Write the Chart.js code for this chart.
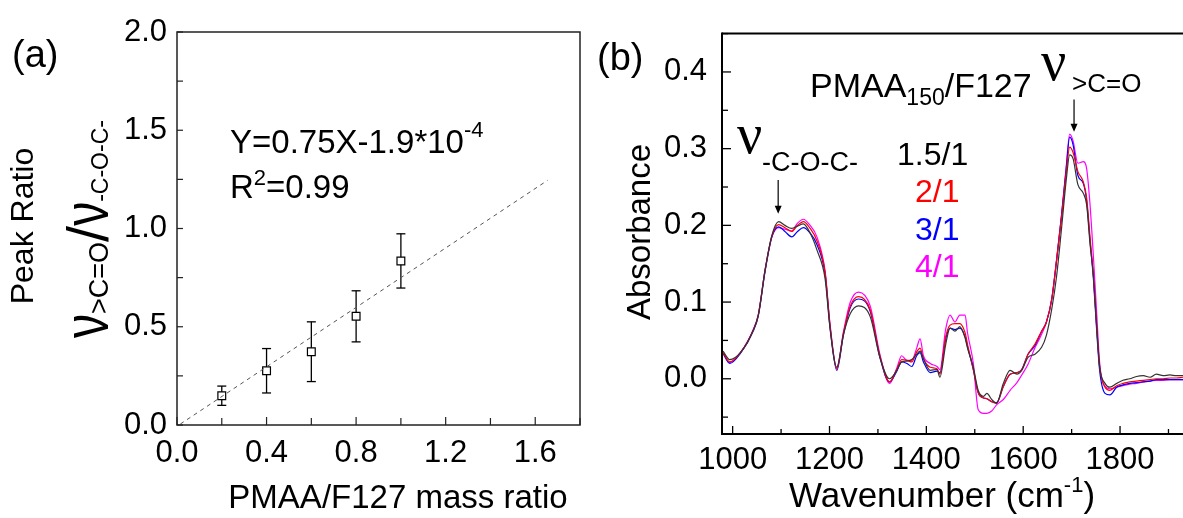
<!DOCTYPE html>
<html>
<head>
<meta charset="utf-8">
<script src="https://cdn.jsdelivr.net/npm/chart.js@4.4.1/dist/chart.umd.min.js"></script>
<style>
  html, body { margin: 0; padding: 0; background: #fff; }
  #wrap { position: relative; width: 1183px; height: 518px; overflow: hidden; }
  canvas { position: absolute; top: 0; }
  #ratioChart { left: 0; }
  #ftirChart { left: 590px; }
</style>
</head>
<body>
<div id="wrap">
  <canvas id="ratioChart" width="590" height="518"></canvas>
  <canvas id="ftirChart" width="593" height="518"></canvas>
</div>
<script>
const FONT = "'Liberation Sans', Arial, sans-serif";
const SERIF = "'Liberation Serif', 'Times New Roman', serif";

// --- (a) peak ratio vs mass ratio ---
const massRatio = [0.2, 0.4, 0.6, 0.8, 1.0];
const peakRatio = [0.149, 0.276, 0.373, 0.553, 0.835];
const peakErr = [0.049, 0.113, 0.152, 0.130, 0.138];
const fitX = [0.015, 1.655];
const fitY = [0.005, 1.245];
const ratioXLabels = [0, 0.4, 0.8, 1.2, 1.6];
const ratioYLabels = [0, 0.5, 1.0, 1.5, 2.0];

// --- (b) FTIR spectra ---
const wavenumber = [
  980, 994, 1016, 1043, 1053, 1067, 1081, 1095, 1108, 1122,
  1134, 1146, 1160, 1174, 1191, 1201, 1215, 1229, 1243, 1260,
  1284, 1304, 1324, 1339, 1349, 1360, 1370, 1380, 1387, 1394,
  1408, 1422, 1428, 1440, 1449, 1459, 1469, 1480, 1485, 1497,
  1507, 1518, 1525, 1535, 1545, 1559, 1573, 1587, 1597, 1610,
  1624, 1638, 1648, 1659, 1669, 1679, 1689, 1696, 1703, 1713,
  1724, 1731, 1738, 1745, 1752, 1758, 1769, 1779, 1793, 1806,
  1820, 1834, 1848, 1862, 1875, 1889, 1903, 1916, 1930
];
const abs15 = [
  0.036, 0.025, 0.034, 0.064, 0.083, 0.142, 0.187, 0.205, 0.200, 0.196,
  0.199, 0.202, 0.190, 0.168, 0.130, 0.066, 0.015, 0.058, 0.085, 0.095,
  0.081, 0.028, 0.000, 0.011, 0.022, 0.023, 0.025, 0.032, 0.036, 0.026,
  0.011, 0.012, 0.002, 0.045, 0.066, 0.062, 0.068, 0.053, 0.040, 0.015,
  -0.015, -0.023, -0.019, -0.027, -0.032, -0.006, 0.011, 0.006, 0.011, 0.028,
  0.032, 0.041, 0.057, 0.091, 0.134, 0.195, 0.260, 0.292, 0.287, 0.253,
  0.242, 0.227, 0.176, 0.134, 0.066, 0.015, -0.006, -0.011, -0.006, -0.002,
  0.000, 0.003, 0.004, 0.002, 0.006, 0.004, 0.005, 0.004, 0.004
];
const abs2 = [
  0.034, 0.022, 0.034, 0.064, 0.083, 0.142, 0.186, 0.201, 0.197, 0.192,
  0.200, 0.205, 0.196, 0.180, 0.138, 0.070, 0.013, 0.060, 0.095, 0.107,
  0.090, 0.030, -0.004, 0.012, 0.025, 0.024, 0.022, 0.035, 0.040, 0.026,
  0.015, 0.013, 0.006, 0.055, 0.070, 0.072, 0.072, 0.060, 0.045, 0.012,
  -0.018, -0.025, -0.026, -0.030, -0.032, -0.010, 0.006, 0.008, 0.012, 0.032,
  0.045, 0.062, 0.074, 0.104, 0.155, 0.210, 0.270, 0.302, 0.295, 0.270,
  0.257, 0.236, 0.185, 0.134, 0.066, 0.015, -0.011, -0.015, -0.009, -0.006,
  -0.004, -0.003, -0.002, -0.001, 0.000, 0.000, 0.001, 0.001, 0.002
];
const abs3 = [
  0.033, 0.020, 0.033, 0.063, 0.082, 0.140, 0.185, 0.198, 0.192, 0.185,
  0.192, 0.197, 0.190, 0.175, 0.136, 0.068, 0.011, 0.058, 0.093, 0.104,
  0.088, 0.028, -0.004, 0.010, 0.022, 0.020, 0.016, 0.030, 0.034, 0.022,
  0.008, 0.010, 0.008, 0.052, 0.066, 0.064, 0.066, 0.055, 0.042, 0.012,
  -0.018, -0.025, -0.026, -0.030, -0.031, -0.010, 0.006, 0.008, 0.012, 0.032,
  0.043, 0.062, 0.074, 0.104, 0.155, 0.212, 0.275, 0.315, 0.305, 0.265,
  0.255, 0.232, 0.180, 0.130, 0.060, 0.010, -0.019, -0.021, -0.011, -0.008,
  -0.006, -0.005, -0.004, -0.003, -0.001, -0.001, -0.001, -0.001, -0.001
];
const abs4 = [
  0.034, 0.021, 0.034, 0.065, 0.084, 0.142, 0.185, 0.197, 0.195, 0.193,
  0.203, 0.208, 0.200, 0.185, 0.140, 0.072, 0.014, 0.062, 0.100, 0.113,
  0.095, 0.032, -0.006, 0.014, 0.030, 0.024, 0.024, 0.040, 0.052, 0.030,
  0.020, 0.016, 0.012, 0.065, 0.083, 0.074, 0.083, 0.083, 0.060, 0.020,
  -0.040, -0.045, -0.045, -0.042, -0.034, -0.027, -0.015, -0.005, 0.005, 0.019,
  0.040, 0.058, 0.074, 0.104, 0.155, 0.212, 0.278, 0.319, 0.310, 0.281,
  0.283, 0.274, 0.227, 0.159, 0.083, 0.020, -0.010, -0.013, -0.011, -0.009,
  -0.007, -0.006, -0.004, -0.003, -0.002, -0.002, -0.001, -0.001, -0.001
];
const seriesNames = ['1.5/1', '2/1', '3/1', '4/1'];
const seriesColors = ['#333333', '#ff0000', '#0000ff', '#ff00ff'];
const wnLabels = [1000, 1200, 1400, 1600, 1800];
const absLabels = [0, 0.1, 0.2, 0.3, 0.4];

const isIn = (v, arr) => arr.some(a => Math.abs(a - v) < 1e-6);

// draw a run of text pieces: [text, size, baseline shift, family, x squeeze, colour]
function rich(ctx, x, y, rot, parts, align) {
    ctx.save();
    ctx.translate(x, y);
    ctx.rotate(rot);
    ctx.textBaseline = 'alphabetic';
    ctx.textAlign = 'left';
    const widths = parts.map(p => {
        ctx.font = p[1] + 'px ' + (p[3] || FONT);
        return ctx.measureText(p[0]).width * (p[4] || 1);
    });
    let cx = align === 'center' ? -widths.reduce((s, w) => s + w, 0) / 2 : 0;
    parts.forEach((p, i) => {
        ctx.font = p[1] + 'px ' + (p[3] || FONT);
        ctx.fillStyle = p[5] || '#000';
        ctx.save();
        ctx.translate(cx, p[2] || 0);
        ctx.scale(p[4] || 1, 1);
        ctx.fillText(p[0], 0, 0);
        ctx.restore();
        cx += widths[i];
    });
    ctx.restore();
}

function line(ctx, x1, y1, x2, y2) {
    ctx.beginPath();
    ctx.moveTo(x1, y1);
    ctx.lineTo(x2, y2);
    ctx.stroke();
}

function arrow(ctx, x, y1, y2) {
    ctx.strokeStyle = '#000';
    ctx.fillStyle = '#000';
    ctx.lineWidth = 1.2;
    line(ctx, x, y1, x, y2 - 7);
    ctx.beginPath();
    ctx.moveTo(x - 3.5, y2 - 8);
    ctx.lineTo(x + 3.5, y2 - 8);
    ctx.lineTo(x, y2);
    ctx.closePath();
    ctx.fill();
}

// inward tick marks on bottom and left axes
function drawTicks(chart, xMajors, yMajors, xLen, yLen) {
    const ctx = chart.ctx, a = chart.chartArea;
    const xs = chart.scales.x, ys = chart.scales.y;
    xs.ticks.forEach(t => {
        const p = xs.getPixelForValue(t.value);
        const L = isIn(t.value, xMajors) ? xLen[0] : xLen[1];
        line(ctx, p, a.bottom, p, a.bottom - L);
    });
    ys.ticks.forEach(t => {
        const p = ys.getPixelForValue(t.value);
        const L = isIn(t.value, yMajors) ? yLen[0] : yLen[1];
        line(ctx, a.left, p, a.left + L, p);
    });
}

function scaleOpts(min, max, step, majors, fmt, pad, fitFn) {
    return {
        type: 'linear', min: min, max: max,
        grid: { display: false, drawTicks: false },
        border: { display: false },
        ticks: {
            stepSize: step, includeBounds: false, autoSkip: false, maxRotation: 0,
            padding: pad, color: '#000', font: { family: FONT, size: 31 },
            callback: v => isIn(v, majors) ? fmt(Math.abs(v) < 1e-9 ? 0 : v) : ''
        },
        afterFit: fitFn
    };
}

const ratioPlugin = {
    id: 'ratioDecor',
    beforeDatasetsDraw(chart) {
        const ctx = chart.ctx, xs = chart.scales.x, ys = chart.scales.y;
        ctx.save();
        ctx.strokeStyle = '#000';
        ctx.lineWidth = 1.3;
        massRatio.forEach((m, i) => {
            const px = xs.getPixelForValue(m);
            const top = ys.getPixelForValue(peakRatio[i] + peakErr[i]);
            const bot = ys.getPixelForValue(peakRatio[i] - peakErr[i]);
            line(ctx, px, top, px, bot);
            line(ctx, px - 4.5, top, px + 4.5, top);
            line(ctx, px - 4.5, bot, px + 4.5, bot);
        });
        ctx.restore();
    },
    afterDraw(chart) {
        const ctx = chart.ctx, a = chart.chartArea;
        ctx.save();
        ctx.strokeStyle = '#222';
        ctx.lineWidth = 1.5;
        ctx.strokeRect(a.left, a.top, a.right - a.left, a.bottom - a.top);
        ctx.lineWidth = 1.2;
        drawTicks(chart, ratioXLabels, ratioYLabels, [8, 7], [6, 6]);

        rich(ctx, 12, 67, 0, [['(a)', 38]]);
        rich(ctx, 230, 153, 0, [['Y=0.75X-1.9*10', 33], ['-4', 22, -16]]);
        rich(ctx, 230, 198, 0, [['R', 33], ['2', 22, -13], ['=0.99', 33]]);
        rich(ctx, 33, 226, -Math.PI / 2, [['Peak Ratio', 32]], 'center');
        rich(ctx, 108, 338, -Math.PI / 2, [
            ['ν', 64, 0, FONT, 0.75], ['>C=O', 27], ['/', 58],
            ['ν', 64, 0, FONT, 0.75], ['-C-O-C-', 23]
        ]);
        rich(ctx, 398, 508, 0, [['PMAA/F127 mass ratio', 33]], 'center');
        ctx.restore();
    }
};

const ftirPlugin = {
    id: 'ftirDecor',
    afterDraw(chart) {
        const ctx = chart.ctx, a = chart.chartArea;
        const xs = chart.scales.x, ys = chart.scales.y;
        ctx.save();
        ctx.strokeStyle = '#000';
        ctx.lineWidth = 2;
        line(ctx, a.left, a.top, a.right, a.top);
        line(ctx, a.left, a.top - 1, a.left, a.bottom + 1);
        line(ctx, a.left, a.bottom, a.right, a.bottom);
        ctx.lineWidth = 1.3;
        drawTicks(chart, wnLabels, absLabels, [8, 5], [9, 6]);

        arrow(ctx, xs.getPixelForValue(1094), ys.getPixelForValue(0.259), ys.getPixelForValue(0.215));
        arrow(ctx, xs.getPixelForValue(1705), ys.getPixelForValue(0.364), ys.getPixelForValue(0.322));

        rich(ctx, 7, 70, 0, [['(b)', 38]]);
        rich(ctx, 60, 232, -Math.PI / 2, [['Absorbance', 33]], 'center');
        rich(ctx, 220, 97, 0, [['PMAA', 34], ['150', 23, 8], ['/F127', 34]]);
        rich(ctx, 451, 80, 0, [['ν', 56, 0, SERIF]]);
        rich(ctx, 482, 92, 0, [['>C=O', 26]]);
        rich(ctx, 147, 153, 0, [['ν', 56, 0, SERIF]]);
        rich(ctx, 172, 171, 0, [['-C-O-C-', 27]]);
        const baselines = [165, 202, 240, 277];
        const xsText = [307, 325, 325, 325];
        seriesNames.forEach((n, i) => {
            rich(ctx, xsText[i], baselines[i], 0, [[n, 32, 0, FONT, 1, i === 0 ? '#000' : seriesColors[i]]]);
        });
        rich(ctx, 352, 507, 0, [['Wavenumber (cm', 35], ['-1', 22, -15], [')', 35]], 'center');
        ctx.restore();
    }
};

Chart.defaults.font.family = FONT;

new Chart(document.getElementById('ratioChart'), {
    type: 'scatter',
    data: {
        datasets: [
            {
                type: 'line',
                data: fitX.map((x, i) => ({ x: x, y: fitY[i] })),
                borderColor: '#555', borderWidth: 1, borderDash: [4, 4],
                pointRadius: 0, fill: false
            },
            {
                data: massRatio.map((x, i) => ({ x: x, y: peakRatio[i] })),
                pointStyle: 'rect', pointRadius: 5.5,
                borderColor: '#000', borderWidth: 1.2, backgroundColor: '#fff'
            }
        ]
    },
    options: {
        responsive: false, animation: false, devicePixelRatio: 1,
        layout: { padding: { top: 32, right: 5, left: 0, bottom: 0 } },
        plugins: { legend: { display: false }, tooltip: { enabled: false } },
        scales: {
            x: scaleOpts(0, 1.8, 0.2, ratioXLabels, v => v.toFixed(1), 10, s => { s.height = 93; }),
            y: scaleOpts(0, 2, 0.25, ratioYLabels, v => v.toFixed(1), 10, s => { s.width = 177; })
        }
    },
    plugins: [ratioPlugin]
});

const spectra = [abs15, abs2, abs3, abs4];
new Chart(document.getElementById('ftirChart'), {
    type: 'line',
    data: {
        datasets: spectra.map((s, i) => ({
            label: seriesNames[i],
            data: wavenumber.map((w, j) => ({ x: w, y: s[j] })),
            borderColor: seriesColors[i], borderWidth: 1.2,
            pointRadius: 0, fill: false, cubicInterpolationMode: 'monotone'
        }))
    },
    options: {
        responsive: false, animation: false, devicePixelRatio: 1,
        layout: { padding: { top: 26, right: 0, left: 0, bottom: 0 } },
        plugins: { legend: { display: false }, tooltip: { enabled: false } },
        scales: {
            x: scaleOpts(978, 1930, 100, wnLabels, v => String(v), 8, s => { s.height = 84; }),
            y: scaleOpts(-0.072, 0.45, 0.05, absLabels, v => v.toFixed(1), 15, s => { s.width = 132; })
        }
    },
    plugins: [ftirPlugin]
});
</script>
</body>
</html>
